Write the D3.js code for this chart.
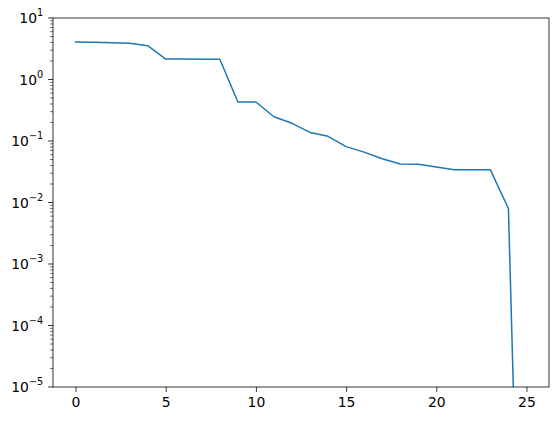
<!DOCTYPE html>
<html>
<head>
<meta charset="utf-8">
<script src="https://cdn.jsdelivr.net/npm/d3@7"></script>
<style>
  body { margin: 0; background: #fff; }
  svg text { font-family: "DejaVu Sans", sans-serif; }
</style>
</head>
<body>
<svg class="container" width="559" height="421"></svg>
<script>
let steps = d3.range(0, 26);
let values = [4.07, 4.02, 3.95, 3.88, 3.55, 2.15, 2.15, 2.14, 2.13, 0.43,
    0.43, 0.248, 0.194, 0.138, 0.119, 0.081, 0.066, 0.0515, 0.0423, 0.042,
    0.0377, 0.0341, 0.034, 0.034, 0.0080, 1.7e-13];
let xTicks = [0, 5, 10, 15, 20, 25];
let yDecades = [-5, -4, -3, -2, -1, 0, 1];

let plotLeft = 53, plotRight = 549, plotTop = 18, plotBottom = 387;
let svg = d3.select(".container");

let x = d3.scaleLinear().domain([-1.25, 26.25]).range([plotLeft, plotRight]);
let y = d3.scaleLog().domain([1e-5, 10]).range([plotBottom, plotTop]);

svg.append("defs").append("clipPath").attr("id", "clip")
    .append("rect")
    .attr("x", plotLeft).attr("y", plotTop)
    .attr("width", plotRight - plotLeft).attr("height", plotBottom - plotTop);

let points = steps.map((s, i) => ({ x: s, y: values[i] }));
let line = d3.line().x(d => x(d.x)).y(d => y(d.y));

svg.append("path")
    .datum(points)
    .attr("clip-path", "url(#clip)")
    .attr("d", line)
    .attr("fill", "none")
    .attr("stroke", "#1f77b4")
    .attr("stroke-width", 1.5)
    .attr("stroke-linejoin", "round")
    .attr("stroke-linecap", "square");

// x axis
let xAxis = d3.axisBottom(x).tickValues(xTicks).tickSize(4.9).tickPadding(4.9)
    .tickFormat(d3.format("d"));
let gx = svg.append("g").attr("transform", `translate(0,${plotBottom})`).call(xAxis);
gx.select(".domain").remove();
gx.selectAll("line").attr("stroke", "#000").attr("stroke-width", 0.8);
gx.selectAll("text").attr("font-size", 13.9).attr("fill", "#000")
    .attr("font-family", "DejaVu Sans");

// y axis, minor ticks
let minor = [];
yDecades.slice(0, -1).forEach(e => {
    for (let k = 2; k <= 9; k++) minor.push(k * Math.pow(10, e));
});
svg.append("g").selectAll("line").data(minor).enter().append("line")
    .attr("x1", plotLeft - 2.8).attr("x2", plotLeft)
    .attr("y1", d => y(d)).attr("y2", d => y(d))
    .attr("stroke", "#000").attr("stroke-width", 0.6);

let gy = svg.append("g");
gy.selectAll("line").data(yDecades).enter().append("line")
    .attr("x1", plotLeft - 4.9).attr("x2", plotLeft)
    .attr("y1", d => y(Math.pow(10, d))).attr("y2", d => y(Math.pow(10, d)))
    .attr("stroke", "#000").attr("stroke-width", 0.8);

let labels = gy.selectAll("text").data(yDecades).enter().append("text")
    .attr("x", plotLeft - 4.9 - 4.9)
    .attr("y", d => y(Math.pow(10, d)) + 5)
    .attr("text-anchor", "end")
    .attr("font-size", 13.9)
    .attr("fill", "#000");
labels.append("tspan").text("10");
labels.append("tspan")
    .attr("font-size", 9.7)
    .attr("dy", -7)
    .text(d => d < 0 ? "\u2212" + Math.abs(d) : String(d));

// frame
svg.append("rect")
    .attr("x", plotLeft).attr("y", plotTop)
    .attr("width", plotRight - plotLeft).attr("height", plotBottom - plotTop)
    .attr("fill", "none").attr("stroke", "#000").attr("stroke-width", 0.8);
</script>
</body>
</html>
